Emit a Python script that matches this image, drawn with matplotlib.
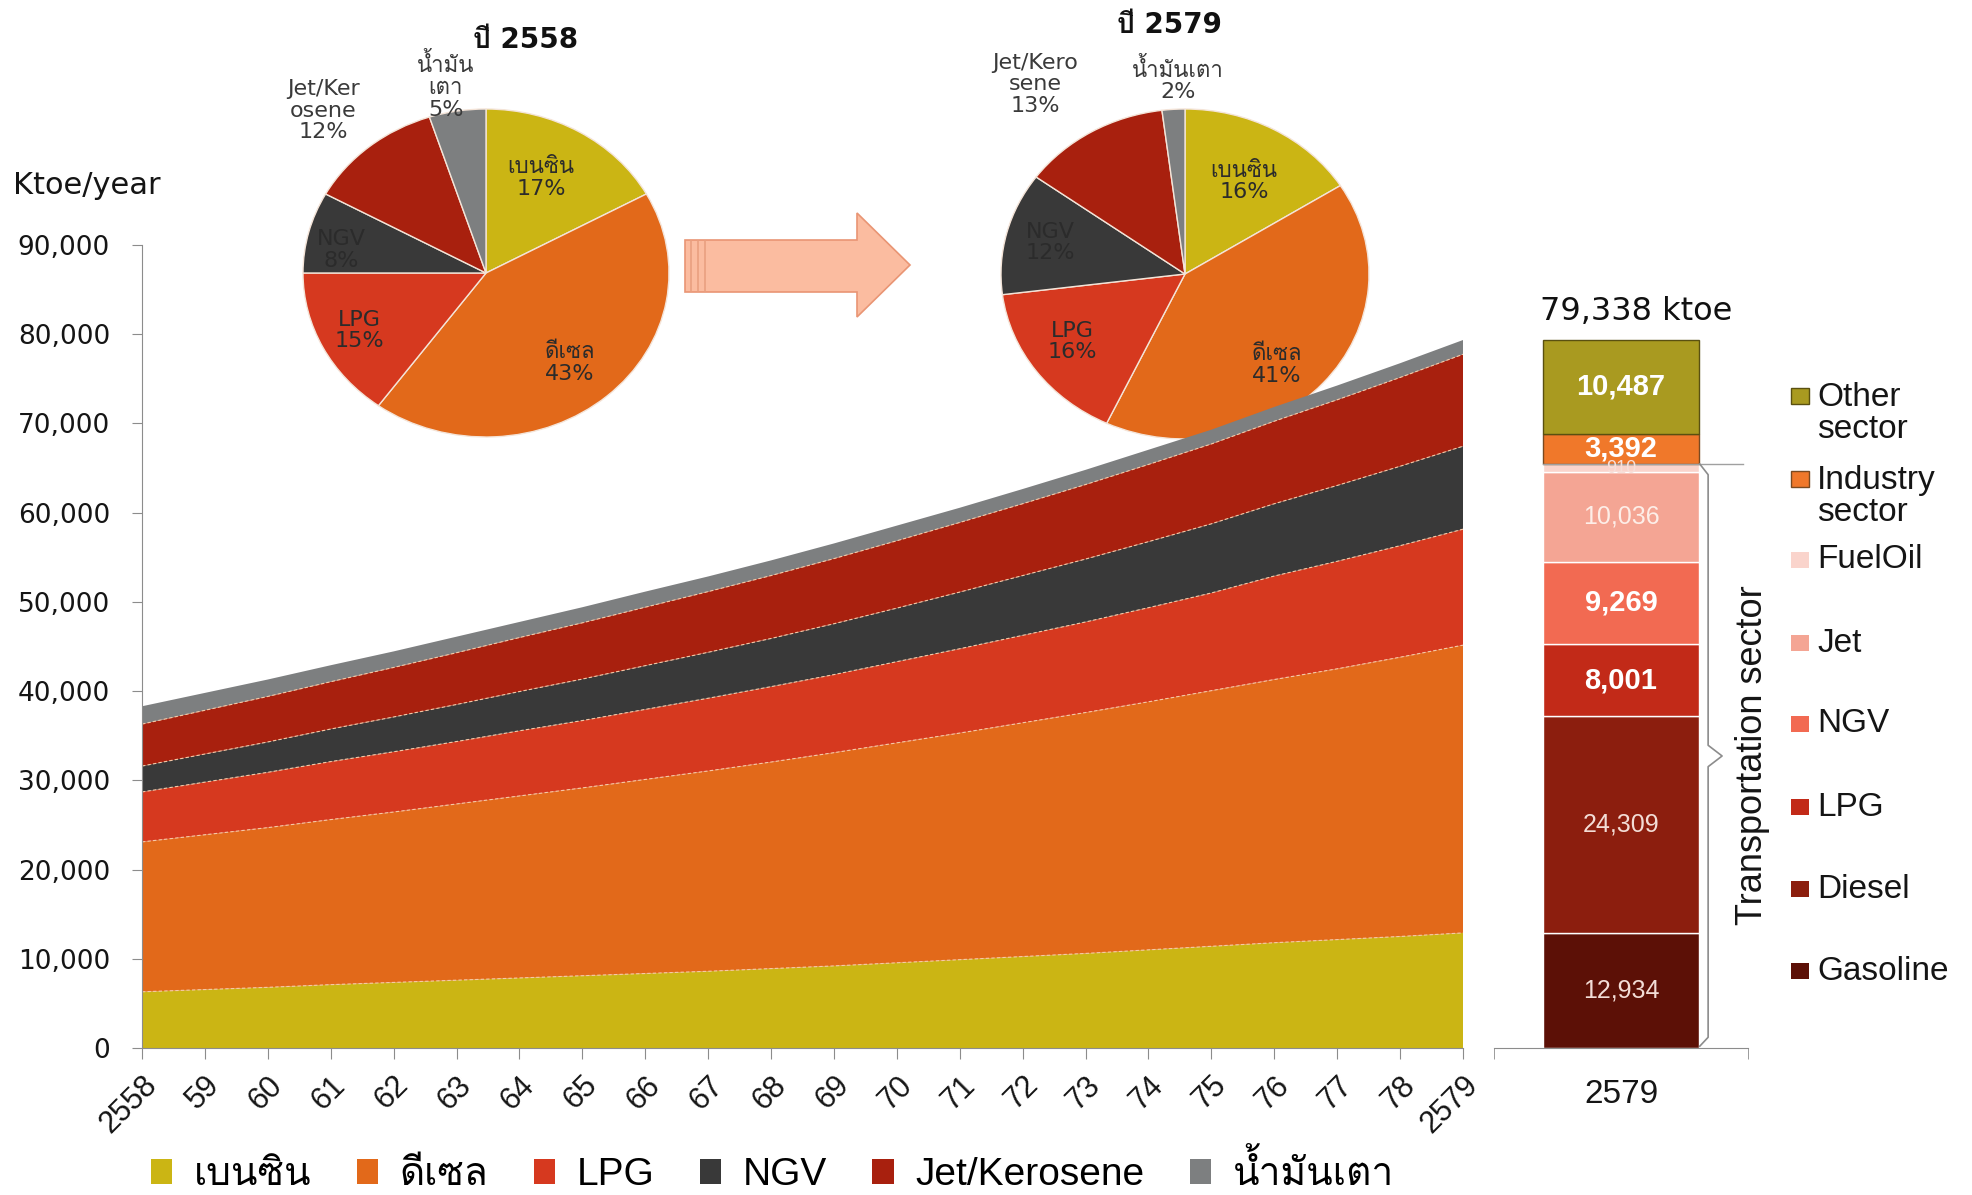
import matplotlib
matplotlib.use('Agg')
import matplotlib.pyplot as plt
import numpy as np
from matplotlib import font_manager
from matplotlib.ft2font import FT2Font
from matplotlib.patches import Polygon, Rectangle
from matplotlib.ticker import StrMethodFormatter

# ---- data ----
years = ['2558', '59', '60', '61', '62', '63', '64', '65', '66', '67', '68',
         '69', '70', '71', '72', '73', '74', '75', '76', '77', '78', '2579']
fuel_names = ['เบนซิน', 'ดีเซล', 'LPG', 'NGV', 'Jet/Kerosene', 'น้ำมันเตา']

gasoline = [6300, 6550, 6800, 7100, 7350, 7600, 7850, 8100, 8350, 8600, 8900,
            9200, 9550, 9900, 10250, 10600, 11000, 11400, 11800, 12150, 12500, 12900]
diesel = [16800, 17350, 17900, 18500, 19100, 19750, 20400, 21050, 21750, 22450, 23150,
          23900, 24650, 25400, 26200, 27000, 27800, 28650, 29500, 30350, 31300, 32250]
lpg = [5600, 5900, 6200, 6500, 6750, 7000, 7300, 7550, 7850, 8150, 8450,
       8750, 9100, 9450, 9800, 10150, 10550, 10950, 11600, 12050, 12500, 13000]
ngv = [2900, 3150, 3400, 3650, 3900, 4150, 4400, 4650, 4900, 5150, 5400,
       5700, 6000, 6350, 6700, 7050, 7400, 7750, 8100, 8500, 8900, 9300]
jet = [4700, 4900, 5100, 5300, 5550, 5800, 6050, 6300, 6550, 6800, 7050,
       7300, 7550, 7800, 8050, 8350, 8650, 8950, 9250, 9600, 9950, 10300]
fuel_oil = [2000, 1950, 1900, 1850, 1800, 1800, 1750, 1750, 1750, 1700, 1700,
            1700, 1700, 1650, 1650, 1650, 1650, 1600, 1600, 1600, 1600, 1600]

pie_2558 = [17, 43, 15, 8, 12, 5]
pie_2579 = [16, 41, 16, 12, 13, 2]
pie_names_2558 = ['เบนซิน', 'ดีเซล', 'LPG', 'NGV', 'Jet/Ker\nosene', 'น้ำมัน\nเตา']
pie_names_2579 = ['เบนซิน', 'ดีเซล', 'LPG', 'NGV', 'Jet/Kero\nsene', 'น้ำมันเตา']

sector_names = ['Gasoline', 'Diesel', 'LPG', 'NGV', 'Jet', 'FuelOil',
                'Industry\nsector', 'Other\nsector']
sector_values = [12934, 24309, 8001, 9269, 10036, 910, 3392, 10487]
total_2579 = 79338

# ---- fonts: find something that can draw Thai ----
thai_font = None
for f in font_manager.fontManager.ttflist:
    try:
        if 0x0E40 in FT2Font(f.fname).get_charmap():
            thai_font = f.name
            break
    except Exception:
        pass
SANS = ['Liberation Sans', 'DejaVu Sans']
WIDE = ['DejaVu Sans']
if thai_font:
    SANS = SANS + [thai_font]
    WIDE = WIDE + [thai_font]

fuel_colors = ['#cbb514', '#e2691a', '#d6391f', '#393939', '#a8200e', '#7d7f80']
sector_colors = ['#5c1006', '#8c1e0e', '#c22a18', '#f26a52', '#f4a594',
                 '#fad4cc', '#f0782a', '#a99a20']
sector_edges = ['white'] * 6 + ['#7a4a20', '#5a5010']

W, H = 1972, 1195
fig = plt.figure(figsize=(W / 100, H / 100), dpi=100)


def box(x0, y0, x1, y1):
    # pixel box (top-left origin) -> figure rect
    return [x0 / W, 1 - y1 / H, (x1 - x0) / W, (y1 - y0) / H]


# ---- pies ----
def draw_pie(rect, values, names, label_xy, title, title_xy):
    pax = fig.add_axes(rect, zorder=1)
    pax.pie(values, colors=fuel_colors, startangle=90, counterclock=False,
            wedgeprops=dict(edgecolor='#f4e4d8', linewidth=1))
    pax.set_aspect('auto')
    pax.set_xlim(-1, 1)
    pax.set_ylim(-1, 1)
    for i, (name, v, (lx, ly)) in enumerate(zip(names, values, label_xy)):
        pax.text(lx, ly, f'{name}\n{v}%', ha='center', va='center', fontsize=16,
                 family=WIDE, color='#2b2b2b' if i < 4 else '#3a3a3a',
                 linespacing=1.1)
    fig.text(title_xy[0] / W, 1 - title_xy[1] / H, title, ha='center', va='center',
             fontsize=20, fontweight='bold', family=WIDE, color='#111111')


draw_pie(box(303, 109, 669, 437), pie_2558, pie_names_2558,
         [(0.30, 0.58), (0.46, -0.55), (-0.69, -0.35), (-0.79, 0.14),
          (-0.89, 0.99), (-0.22, 1.14)],
         'ปี 2558', (526, 40))
draw_pie(box(1001, 109, 1369, 439), pie_2579, pie_names_2579,
         [(0.32, 0.56), (0.50, -0.55), (-0.61, -0.41), (-0.73, 0.19),
          (-0.815, 1.15), (-0.04, 1.18)],
         'ปี 2579', (1169, 25))

# ---- arrow between pies ----
arrow_px = [(685, 240), (857, 240), (857, 213), (910, 265), (857, 317), (857, 292), (685, 292)]
fig.add_artist(Polygon([(x / W, 1 - y / H) for x, y in arrow_px], closed=True,
                       transform=fig.transFigure, facecolor='#fbbca0',
                       edgecolor='#e99574', linewidth=1.2))
for sx in (691, 698, 705):
    fig.add_artist(plt.Line2D([sx / W, sx / W], [1 - 241 / H, 1 - 291 / H],
                              transform=fig.transFigure, color='#e9a080', lw=1.2))

# ---- main stacked area ----
ax = fig.add_axes(box(142, 245, 1463, 1048), zorder=2)
ax.patch.set_visible(False)
x = np.arange(len(years))
layers = [gasoline, diesel, lpg, ngv, jet, fuel_oil]
ax.stackplot(x, layers, colors=fuel_colors, labels=fuel_names, linewidth=0)
tops = np.cumsum(layers, axis=0)
for top in tops[:-1]:
    ax.plot(x, top, color='#f6c9a6', lw=0.8, ls=(0, (3, 2)))

ax.set_xlim(0, len(years) - 1)
ax.set_ylim(0, 90000)
ax.set_yticks(range(0, 90001, 10000))
ax.yaxis.set_major_formatter(StrMethodFormatter('{x:,.0f}'))
ax.set_xticks(x)
ax.set_xticklabels(years, rotation=45, ha='right', rotation_mode='anchor')
for s in ('top', 'right'):
    ax.spines[s].set_visible(False)
for s in ('left', 'bottom'):
    ax.spines[s].set_color('#8c8c8c')
ax.tick_params(axis='y', length=7, color='#8c8c8c', pad=16, labelsize=19,
               labelcolor='#151515')
ax.tick_params(axis='x', length=8, color='#8c8c8c', pad=8, labelsize=22,
               labelcolor='#151515')
for lab in ax.get_yticklabels():
    lab.set_family(WIDE)
for lab in ax.get_xticklabels():
    lab.set_family(SANS)

fig.text(13 / W, 1 - 186 / H, 'Ktoe/year', ha='left', va='center', fontsize=22,
         family=WIDE, color='#151515')

fig.legend(loc='center left', bbox_to_anchor=(151 / W, 1 - 1172 / H), ncol=6,
           frameon=False, prop={'family': SANS, 'size': 28}, borderpad=0,
           borderaxespad=0, handlelength=0.55, handleheight=0.62,
           handletextpad=0.55, columnspacing=1.17)

# ---- 2579 sector bar ----
bx = fig.add_axes(box(1494, 245, 1748, 1048), zorder=2)
bx.patch.set_visible(False)
bx.set_xlim(-0.5, 0.5)
bx.set_ylim(0, 90000)
bottoms = np.concatenate([[0], np.cumsum(sector_values)[:-1]])
bx.bar(0, sector_values, bottom=bottoms, width=0.614, color=sector_colors,
       edgecolor=sector_edges, linewidth=1)

label_style = {
    'Gasoline': dict(color='#f3ddd6', fontweight='normal', fontsize=18),
    'Diesel': dict(color='#f3ddd6', fontweight='normal', fontsize=18),
    'LPG': dict(color='white', fontweight='bold', fontsize=21),
    'NGV': dict(color='white', fontweight='bold', fontsize=21),
    'Jet': dict(color='#fdeee8', fontweight='normal', fontsize=18),
    'FuelOil': dict(color='#f6e0da', fontweight='normal', fontsize=13),
    'Industry\nsector': dict(color='white', fontweight='bold', fontsize=21),
    'Other\nsector': dict(color='white', fontweight='bold', fontsize=21),
}
for name, v, b in zip(sector_names, sector_values, bottoms):
    bx.text(0, b + v / 2, f'{v:,}', ha='center', va='center', family=SANS,
            **label_style[name])

for s in ('top', 'right', 'left'):
    bx.spines[s].set_visible(False)
bx.spines['bottom'].set_color('#8c8c8c')
bx.set_yticks([])
bx.set_xticks([0])
bx.set_xticklabels(['2579'], family=SANS, fontsize=24, color='#151515')
bx.tick_params(axis='x', which='major', length=0, pad=22)
bx.set_xticks([-0.5, 0.5], minor=True)
bx.tick_params(axis='x', which='minor', length=8, color='#8c8c8c')

fig.text(1636 / W, 1 - 312 / H, f'{total_2579:,} ktoe', ha='center', va='center',
         fontsize=23, family=WIDE, color='#111111')

# bracket around the transport part
transport = sum(sector_values[:6])
bx.plot([-0.307, 0.48], [transport, transport], color='#a0a0a0', lw=1, clip_on=False)
mid = transport / 2
bx.plot([0.31, 0.343, 0.343, 0.398, 0.343, 0.343, 0.31],
        [transport, transport - 1200, mid + 1200, mid, mid - 1200, 1200, 200],
        color='#8c8c8c', lw=1.2, clip_on=False)
fig.text(1752 / W, 1 - 755 / H, 'Transportation sector', rotation=90, ha='center',
         va='center', fontsize=26, family=SANS, color='#151515')

# right-hand legend for the bar
legend_rows = [(7, 396), (6, 479), (5, 560), (4, 643), (3, 724), (2, 807), (1, 889), (0, 971)]
for i, y in legend_rows:
    fig.add_artist(Rectangle((1791 / W, 1 - (y + 8) / H), 18 / W, 16 / H,
                             transform=fig.transFigure, facecolor=sector_colors[i],
                             edgecolor=sector_edges[i] if i >= 6 else 'none', lw=1))
    n = sector_names[i].count('\n')
    fig.text(1817 / W, 1 - (y + n * 17.5) / H, sector_names[i], ha='left', va='center',
             fontsize=24, family=SANS, color='#151515', linespacing=1.05)

fig.savefig('out.png', dpi=100)
